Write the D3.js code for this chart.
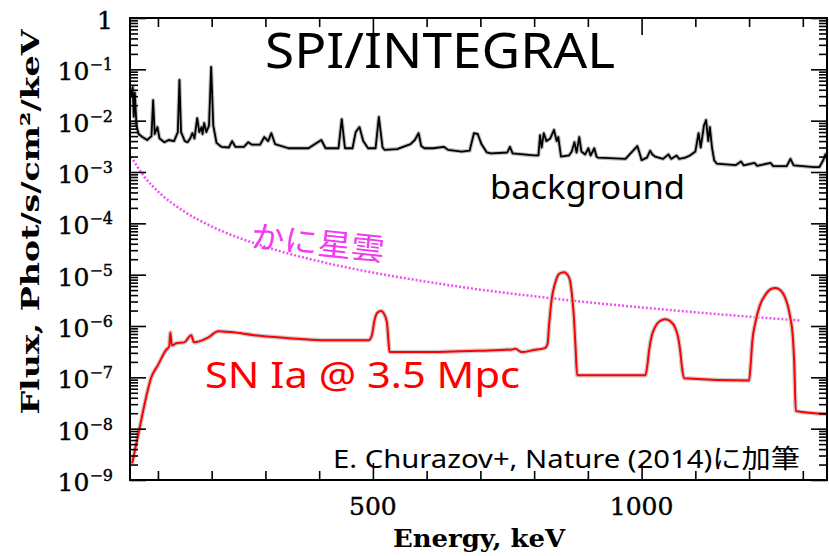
<!DOCTYPE html>
<html>
<head>
<meta charset="utf-8">
<script src="https://cdn.jsdelivr.net/npm/d3@7"></script>
<style>
  body { margin: 0; background: #fff; }
  svg { display: block; }
</style>
</head>
<body>
<script>
// background spectrum [keV, flux]
var bgData = [
  [50, 0.030], [53, 0.045], [55, 0.012], [57, 0.035], [60, 0.008], [64, 0.0055],
  [71, 0.0048], [80, 0.0042], [88, 0.0050], [91, 0.025], [94, 0.0055], [99, 0.0075],
  [103, 0.0045], [112, 0.0038], [120, 0.0042], [130, 0.0040], [137, 0.0060], [140, 0.062],
  [143, 0.0060], [150, 0.0040], [155, 0.0038], [160, 0.0045], [164, 0.0057], [168, 0.0045],
  [173, 0.0112], [177, 0.0060], [181, 0.0075], [183, 0.0055], [186, 0.0090], [190, 0.0060],
  [195, 0.0080], [199, 0.111], [203, 0.0080], [209, 0.0037], [218, 0.0031], [232, 0.0030],
  [238, 0.0040], [244, 0.0031], [260, 0.0031], [268, 0.0038], [275, 0.0034], [290, 0.0034],
  [298, 0.0048], [305, 0.0040], [311, 0.0057], [318, 0.0035], [343, 0.0029], [380, 0.0029],
  [404, 0.0042], [412, 0.0029], [436, 0.0029], [442, 0.0107], [448, 0.0029], [462, 0.0029],
  [468, 0.0060], [475, 0.0075], [482, 0.0040], [491, 0.0029], [505, 0.0029], [511, 0.0118],
  [518, 0.0030], [522, 0.0027], [545, 0.0028], [570, 0.0035], [578, 0.0042], [585, 0.0057],
  [590, 0.0032], [596, 0.0029], [612, 0.0029], [632, 0.0031], [640, 0.0027], [665, 0.0025],
  [680, 0.0026], [688, 0.0057], [695, 0.0055], [702, 0.0035], [712, 0.0024], [720, 0.0023],
  [750, 0.0024], [755, 0.0031], [760, 0.0023], [800, 0.0021], [808, 0.0021], [811, 0.0052],
  [814, 0.0030], [818, 0.0057], [823, 0.0040], [830, 0.0045], [837, 0.0066], [842, 0.0040],
  [845, 0.0048], [850, 0.0020], [865, 0.0021], [870, 0.0025], [875, 0.0038], [879, 0.0024],
  [884, 0.0048], [888, 0.0025], [895, 0.0022], [901, 0.0029], [905, 0.0021], [912, 0.0029],
  [916, 0.0020], [919, 0.0019], [970, 0.0018], [992, 0.0032], [997, 0.0022], [1000, 0.0017],
  [1010, 0.0019], [1016, 0.0026], [1020, 0.0022], [1025, 0.0020], [1040, 0.0018], [1050, 0.0022],
  [1055, 0.0018], [1065, 0.0021], [1070, 0.0018], [1081, 0.0019], [1090, 0.0021], [1100, 0.0025],
  [1106, 0.0057], [1110, 0.0030], [1116, 0.0080], [1120, 0.0103], [1124, 0.0040], [1127, 0.0075],
  [1131, 0.0030], [1135, 0.0017], [1140, 0.00145], [1175, 0.00136], [1185, 0.0016], [1190, 0.00135],
  [1210, 0.0015], [1215, 0.00132], [1240, 0.0015], [1245, 0.0013], [1270, 0.0013], [1277, 0.0018],
  [1283, 0.00135], [1300, 0.0013], [1320, 0.00125], [1331, 0.00125], [1338, 0.0017], [1342, 0.0022],
  [1350, 0.0013]
];

// Crab nebula (かに星雲)
var crabData = [
  [50, 2.0e-3], [75, 8.0e-4], [100, 4.2e-4], [150, 1.67e-4], [200, 8.7e-5], [300, 3.5e-5],
  [400, 1.82e-5], [500, 1.10e-5], [600, 7.3e-6], [700, 5.1e-6], [800, 3.8e-6], [900, 2.9e-6],
  [1000, 2.3e-6], [1100, 1.85e-6], [1200, 1.52e-6], [1296, 1.28e-6]
];

// SN Ia @ 3.5 Mpc
var snData = [
  [52, 2.1e-9], [65, 9.3e-9], [78, 4.1e-8], [87, 9.6e-8], [100, 1.73e-7], [115, 3.4e-7],
  [121, 4.0e-7], [123, 7.5e-7], [126, 4.2e-7], [134, 4.6e-7], [149, 4.8e-7], [162, 6.6e-7],
  [167, 4.8e-7], [194, 6.0e-7], [212, 7.9e-7], [236, 7.6e-7], [279, 6.6e-7], [343, 5.8e-7],
  [404, 5.3e-7], [492, 5.3e-7], [498, 6.5e-7], [503, 1.3e-6], [509, 1.85e-6], [516, 1.95e-6],
  [521, 1.7e-6], [526, 1.2e-6], [529, 5.0e-7], [531, 3.1e-7], [591, 3.1e-7], [700, 3.3e-7],
  [759, 3.5e-7], [765, 3.6e-7], [777, 3.1e-7], [800, 3.4e-7], [820, 3.7e-7], [825, 4.5e-7],
  [828, 1.1e-6], [833, 3.5e-6], [839, 6.8e-6], [847, 1.05e-5], [856, 1.12e-5], [862, 1.0e-5],
  [867, 7.5e-6], [871, 3.5e-6], [874, 1.5e-6], [877, 4.0e-7], [880, 1.1e-7], [1007, 1.1e-7],
  [1011, 1.8e-7], [1014, 3.4e-7], [1019, 6.5e-7], [1025, 9.5e-7], [1034, 1.25e-6], [1044, 1.35e-6],
  [1053, 1.25e-6], [1063, 9.0e-7], [1068, 6.0e-7], [1072, 3.2e-7], [1075, 1.6e-7], [1079, 9.6e-8],
  [1200, 8.7e-8], [1203, 1.8e-7], [1206, 5.0e-7], [1212, 1.2e-6], [1220, 2.5e-6], [1230, 4.0e-6],
  [1240, 5.2e-6], [1249, 5.5e-6], [1258, 5.0e-6], [1266, 3.8e-6], [1272, 2.5e-6], [1277, 1.4e-6],
  [1281, 7.0e-7], [1284, 2.0e-7], [1287, 2.2e-8], [1354, 1.9e-8]
];

var xMajor = [500, 1000];
var xMinor = [100, 200, 300, 400, 600, 700, 800, 900, 1100, 1200, 1300];
var yDecades = [0, -1, -2, -3, -4, -5, -6, -7, -8, -9];

var width = 829, height = 556;
var pad = { left: 130, right: 827, top: 18, bottom: 480 };

var svg = d3.select("body").append("svg")
  .attr("width", width)
  .attr("height", height);

var x = d3.scaleLinear().domain([48, 1345]).range([pad.left, pad.right]);
var y = d3.scaleLog().domain([1e-9, 1]).range([pad.bottom, pad.top]);

svg.append("clipPath").attr("id", "clip")
  .append("rect")
  .attr("x", pad.left).attr("y", pad.top)
  .attr("width", pad.right - pad.left).attr("height", pad.bottom - pad.top);

var plot = svg.append("g").attr("clip-path", "url(#clip)");

var line = d3.line().x(d => x(d[0])).y(d => y(d[1]));
var smooth = d3.line().x(d => x(d[0])).y(d => y(d[1])).curve(d3.curveMonotoneX);

// crab (dotted)
plot.append("path").datum(crabData)
  .attr("d", smooth)
  .attr("fill", "none")
  .attr("stroke", "#f050f0")
  .attr("stroke-width", 2.5)
  .attr("stroke-dasharray", "2,2");

// background
plot.append("path").datum(bgData)
  .attr("d", line).attr("fill", "none")
  .attr("stroke", "#bbb").attr("stroke-width", 4).attr("stroke-linejoin", "round");
plot.append("path").datum(bgData)
  .attr("d", line).attr("fill", "none")
  .attr("stroke", "#000").attr("stroke-width", 1.8).attr("stroke-linejoin", "round");

// SN Ia
plot.append("path").datum(snData)
  .attr("d", smooth).attr("fill", "none")
  .attr("stroke", "#ccc").attr("stroke-width", 4.5);
plot.append("path").datum(snData)
  .attr("d", smooth).attr("fill", "none")
  .attr("stroke", "#ff0000").attr("stroke-width", 2);

// ticks
var yMajor = yDecades.map(p => Math.pow(10, p));
var yMinor = [];
yDecades.slice(1).forEach(p => {
  for (var k = 2; k <= 9; k++) yMinor.push(k * Math.pow(10, p));
});

function axisG(gen, tx, ty) {
  var g = svg.append("g").attr("transform", "translate(" + tx + "," + ty + ")").call(gen);
  g.select(".domain").remove();
  g.selectAll("line").attr("stroke", "#000").attr("stroke-width", 1.6);
  g.selectAll("text").remove();
  return g;
}

axisG(d3.axisBottom(x).tickValues(xMinor).tickSize(-9), 0, pad.bottom);
axisG(d3.axisBottom(x).tickValues(xMajor).tickSize(-17), 0, pad.bottom);
axisG(d3.axisTop(x).tickValues(xMinor).tickSize(-9), 0, pad.top);
axisG(d3.axisTop(x).tickValues(xMajor).tickSize(-17), 0, pad.top);
axisG(d3.axisLeft(y).tickValues(yMinor).tickSize(-8), pad.left, 0);
axisG(d3.axisLeft(y).tickValues(yMajor).tickSize(-16), pad.left, 0);
axisG(d3.axisRight(y).tickValues(yMinor).tickSize(-8), pad.right, 0);
axisG(d3.axisRight(y).tickValues(yMajor).tickSize(-16), pad.right, 0);

// frame
svg.append("rect")
  .attr("x", pad.left).attr("y", pad.top)
  .attr("width", pad.right - pad.left).attr("height", pad.bottom - pad.top)
  .attr("fill", "none").attr("stroke", "#000").attr("stroke-width", 2);

var serif = "'DejaVu Serif', serif";

// x tick labels
svg.selectAll(".xlab").data(xMajor).enter().append("text")
  .attr("x", d => x(d)).attr("y", 515)
  .attr("text-anchor", "middle")
  .attr("font-family", serif).attr("font-size", 25)
  .attr("stroke", "#000").attr("stroke-width", 0.4)
  .text(d => d);

// y tick labels
yDecades.forEach(p => {
  var t = svg.append("text")
    .attr("x", 113).attr("y", y(Math.pow(10, p)) + 11)
    .attr("text-anchor", "end")
    .attr("font-family", serif).attr("font-size", 25)
    .attr("stroke", "#000").attr("stroke-width", 0.4);
  if (p === 0) {
    t.text("1");
  } else {
    t.append("tspan").text("10");
    t.append("tspan").attr("font-size", 16).attr("dy", -10).text("\u2212" + (-p));
  }
});

// axis titles
svg.append("text")
  .attr("x", 479).attr("y", 547)
  .attr("text-anchor", "middle")
  .attr("font-family", serif).attr("font-size", 24).attr("font-weight", "bold")
  .attr("textLength", 172).attr("lengthAdjust", "spacingAndGlyphs")
  .text("Energy, keV");

svg.append("text")
  .attr("transform", "translate(39,222) rotate(-90)")
  .attr("text-anchor", "middle")
  .attr("font-family", serif).attr("font-size", 25).attr("font-weight", "bold")
  .attr("textLength", 385).attr("lengthAdjust", "spacingAndGlyphs")
  .text("Flux, Phot/s/cm\u00b2/keV");

// annotations
var sans = "'Noto Sans', 'Noto Sans CJK JP', sans-serif";

svg.append("text")
  .attr("x", 265).attr("y", 68)
  .attr("font-family", sans).attr("font-size", 50)
  .attr("textLength", 350).attr("lengthAdjust", "spacingAndGlyphs")
  .text("SPI/INTEGRAL");

svg.append("text")
  .attr("x", 490).attr("y", 199)
  .attr("font-family", sans).attr("font-size", 32)
  .attr("textLength", 195).attr("lengthAdjust", "spacingAndGlyphs")
  .text("background");

svg.append("text")
  .attr("transform", "translate(250,247) rotate(6)")
  .attr("font-family", "'Noto Sans CJK JP', sans-serif").attr("font-size", 31)
  .attr("fill", "#f03cf0")
  .attr("textLength", 134).attr("lengthAdjust", "spacingAndGlyphs")
  .text("かに星雲");

svg.append("text")
  .attr("x", 205).attr("y", 388)
  .attr("font-family", sans).attr("font-size", 36)
  .attr("fill", "#ff0000")
  .attr("textLength", 315).attr("lengthAdjust", "spacingAndGlyphs")
  .text("SN Ia @ 3.5 Mpc");

svg.append("text")
  .attr("x", 333).attr("y", 468)
  .attr("font-family", sans).attr("font-size", 26)
  .attr("textLength", 467).attr("lengthAdjust", "spacingAndGlyphs")
  .text("E. Churazov+, Nature (2014)に加筆");
</script>
</body>
</html>
